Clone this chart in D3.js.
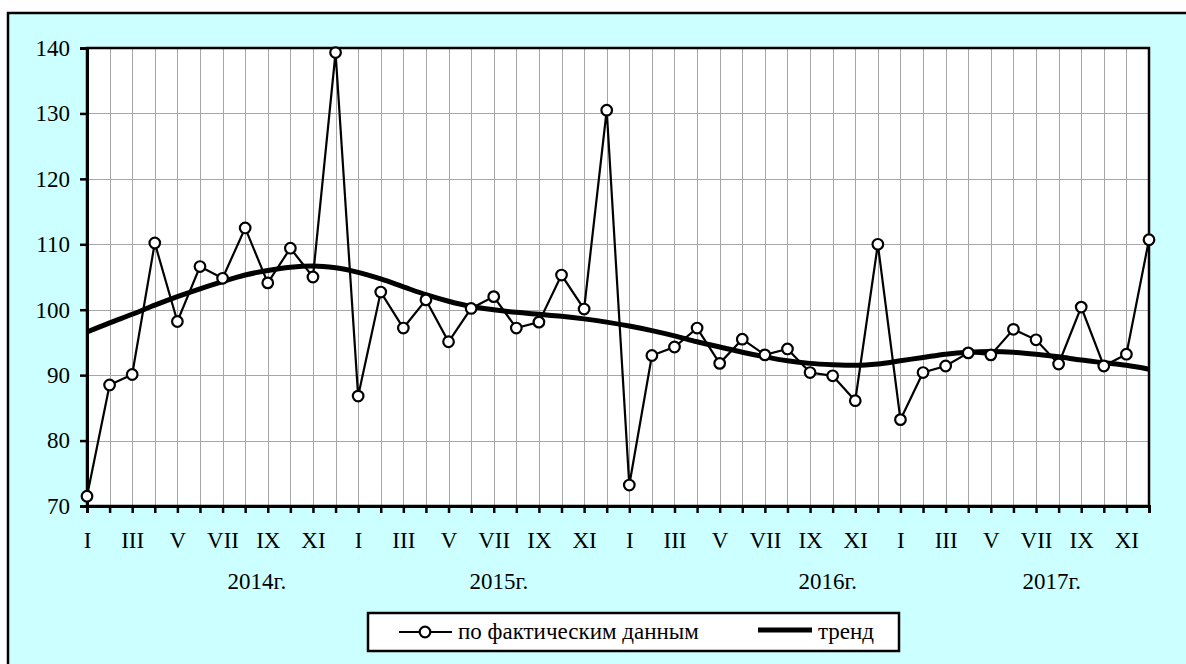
<!doctype html>
<html lang="ru">
<head>
<meta charset="utf-8">
<title>Динамика</title>
<script src="https://cdn.jsdelivr.net/npm/d3@7"></script>
<style>
  html, body { margin: 0; padding: 0; background: #fff; }
  svg { display: block; }
  svg text { font-family: "Liberation Serif", "DejaVu Serif", serif; font-size: 23px; fill: #000; }
  .grid line { stroke: #a6a6a6; stroke-width: 1px; shape-rendering: crispEdges; }
</style>
</head>
<body>
<svg id="chart" width="1186" height="664"></svg>
<script>
// --- data ---
var years = ["2014г.", "2015г.", "2016г.", "2017г."];
var monthNames = ["I", "II", "III", "IV", "V", "VI", "VII", "VIII", "IX", "X", "XI", "XII"];

var actual = [
  71.5, 88.5, 90.1, 110.2, 98.2, 106.6, 104.8, 112.5, 104.1, 109.4, 105.0, 139.3,
  86.8, 102.7, 97.2, 101.5, 95.1, 100.2, 102.0, 97.2, 98.1, 105.3, 100.1, 130.5,
  73.2, 93.0, 94.3, 97.2, 91.8, 95.5, 93.1, 94.0, 90.4, 89.9, 86.1, 110.0,
  83.2, 90.4, 91.4, 93.4, 93.1, 97.0, 95.4, 91.7, 100.4, 91.4, 93.2, 110.7
];

var trend = [
  96.6, 98.0, 99.3, 100.7, 102.0, 103.2, 104.3, 105.3, 106.0, 106.5, 106.7, 106.4,
  105.7, 104.7, 103.5, 102.3, 101.3, 100.5, 100.0, 99.6, 99.3, 99.0, 98.6, 98.1,
  97.5, 96.8, 96.0, 95.1, 94.3, 93.5, 92.8, 92.2, 91.8, 91.6, 91.5, 91.7,
  92.2, 92.7, 93.2, 93.5, 93.6, 93.5, 93.2, 92.8, 92.3, 91.9, 91.5, 90.9
];

var yTicks = [70, 80, 90, 100, 110, 120, 130, 140];

// --- layout ---
var svg = d3.select("#chart");
var plot = { left: 87, right: 1149, top: 48, bottom: 506 };

// outer frame (runs off the right and bottom of the picture)
svg.append("rect")
  .attr("x", 8).attr("y", 13)
  .attr("width", 1200).attr("height", 700)
  .attr("fill", "#ccffff")
  .attr("stroke", "#000").attr("stroke-width", 2.5);

var n = actual.length;
var x = d3.scaleLinear().domain([0, n - 1]).range([plot.left, plot.right]);
var y = d3.scaleLinear().domain([70, 140]).range([plot.bottom, plot.top]);

svg.append("rect")
  .attr("x", plot.left).attr("y", plot.top)
  .attr("width", plot.right - plot.left).attr("height", plot.bottom - plot.top)
  .attr("fill", "#fff");

// grid
var grid = svg.append("g").attr("class", "grid");
grid.selectAll(".v").data(d3.range(1, n - 1)).enter().append("line")
  .attr("x1", function(d) { return Math.round(x(d)) + 0.5; })
  .attr("x2", function(d) { return Math.round(x(d)) + 0.5; })
  .attr("y1", plot.top).attr("y2", plot.bottom);
grid.selectAll(".h").data(yTicks.slice(1, -1)).enter().append("line")
  .attr("x1", plot.left).attr("x2", plot.right)
  .attr("y1", function(d) { return Math.round(y(d)) + 0.5; })
  .attr("y2", function(d) { return Math.round(y(d)) + 0.5; });

// plot border
svg.append("rect")
  .attr("x", plot.left).attr("y", plot.top)
  .attr("width", plot.right - plot.left).attr("height", plot.bottom - plot.top)
  .attr("fill", "none").attr("stroke", "#000").attr("stroke-width", 2.5);

// y axis
var yAxis = d3.axisLeft(y).tickValues(yTicks).tickSize(7).tickPadding(10);
var gy = svg.append("g").attr("transform", "translate(" + plot.left + ",0)").call(yAxis)
  .attr("font-family", null).attr("font-size", null);
gy.select(".domain").attr("stroke-width", 3);
gy.selectAll(".tick line").attr("stroke-width", 2.5);

// x axis: a tick every month, labels under odd months
var xAxis = d3.axisBottom(x).tickValues(d3.range(n)).tickSize(7).tickPadding(19)
  .tickFormat(function(d) { return d % 2 === 0 ? monthNames[d % 12] : ""; });
var gx = svg.append("g").attr("transform", "translate(0," + plot.bottom + ")").call(xAxis)
  .attr("font-family", null).attr("font-size", null);
gx.select(".domain").attr("stroke-width", 3);
gx.selectAll(".tick line").attr("stroke-width", 2.5);

// year captions, placed as in the original (month-index units)
var yearPos = [7.52, 18.23, 32.78, 42.7];
svg.selectAll(".year").data(years).enter().append("text")
  .attr("x", function(d, i) { return x(yearPos[i]); })
  .attr("y", 589)
  .attr("text-anchor", "middle")
  .text(function(d) { return d; });

// trend
var line = d3.line()
  .x(function(d, i) { return x(i); })
  .y(function(d) { return y(d); })
  .curve(d3.curveMonotoneX);

svg.append("path").datum(trend)
  .attr("d", line)
  .attr("fill", "none").attr("stroke", "#000").attr("stroke-width", 5);

// actual
svg.append("path").datum(actual)
  .attr("d", d3.line().x(function(d, i) { return x(i); }).y(function(d) { return y(d); }))
  .attr("fill", "none").attr("stroke", "#000").attr("stroke-width", 2.2);

svg.selectAll(".pt").data(actual).enter().append("circle")
  .attr("cx", function(d, i) { return x(i); })
  .attr("cy", function(d) { return y(d); })
  .attr("r", 5.3)
  .attr("fill", "#fff").attr("stroke", "#000").attr("stroke-width", 2.2);

// legend
var lg = svg.append("g");
lg.append("rect")
  .attr("x", 368).attr("y", 613).attr("width", 531).attr("height", 38)
  .attr("fill", "#fff").attr("stroke", "#000").attr("stroke-width", 2.5);
lg.append("line").attr("x1", 399).attr("x2", 452).attr("y1", 632).attr("y2", 632)
  .attr("stroke", "#000").attr("stroke-width", 2.2);
lg.append("circle").attr("cx", 425).attr("cy", 632).attr("r", 5.3)
  .attr("fill", "#fff").attr("stroke", "#000").attr("stroke-width", 2.2);
lg.append("text").attr("x", 458).attr("y", 639)
  .text("по фактическим данным");
lg.append("line").attr("x1", 758).attr("x2", 812).attr("y1", 630).attr("y2", 630)
  .attr("stroke", "#000").attr("stroke-width", 5);
lg.append("text").attr("x", 818).attr("y", 639)
  .text("тренд");
</script>
</body>
</html>
